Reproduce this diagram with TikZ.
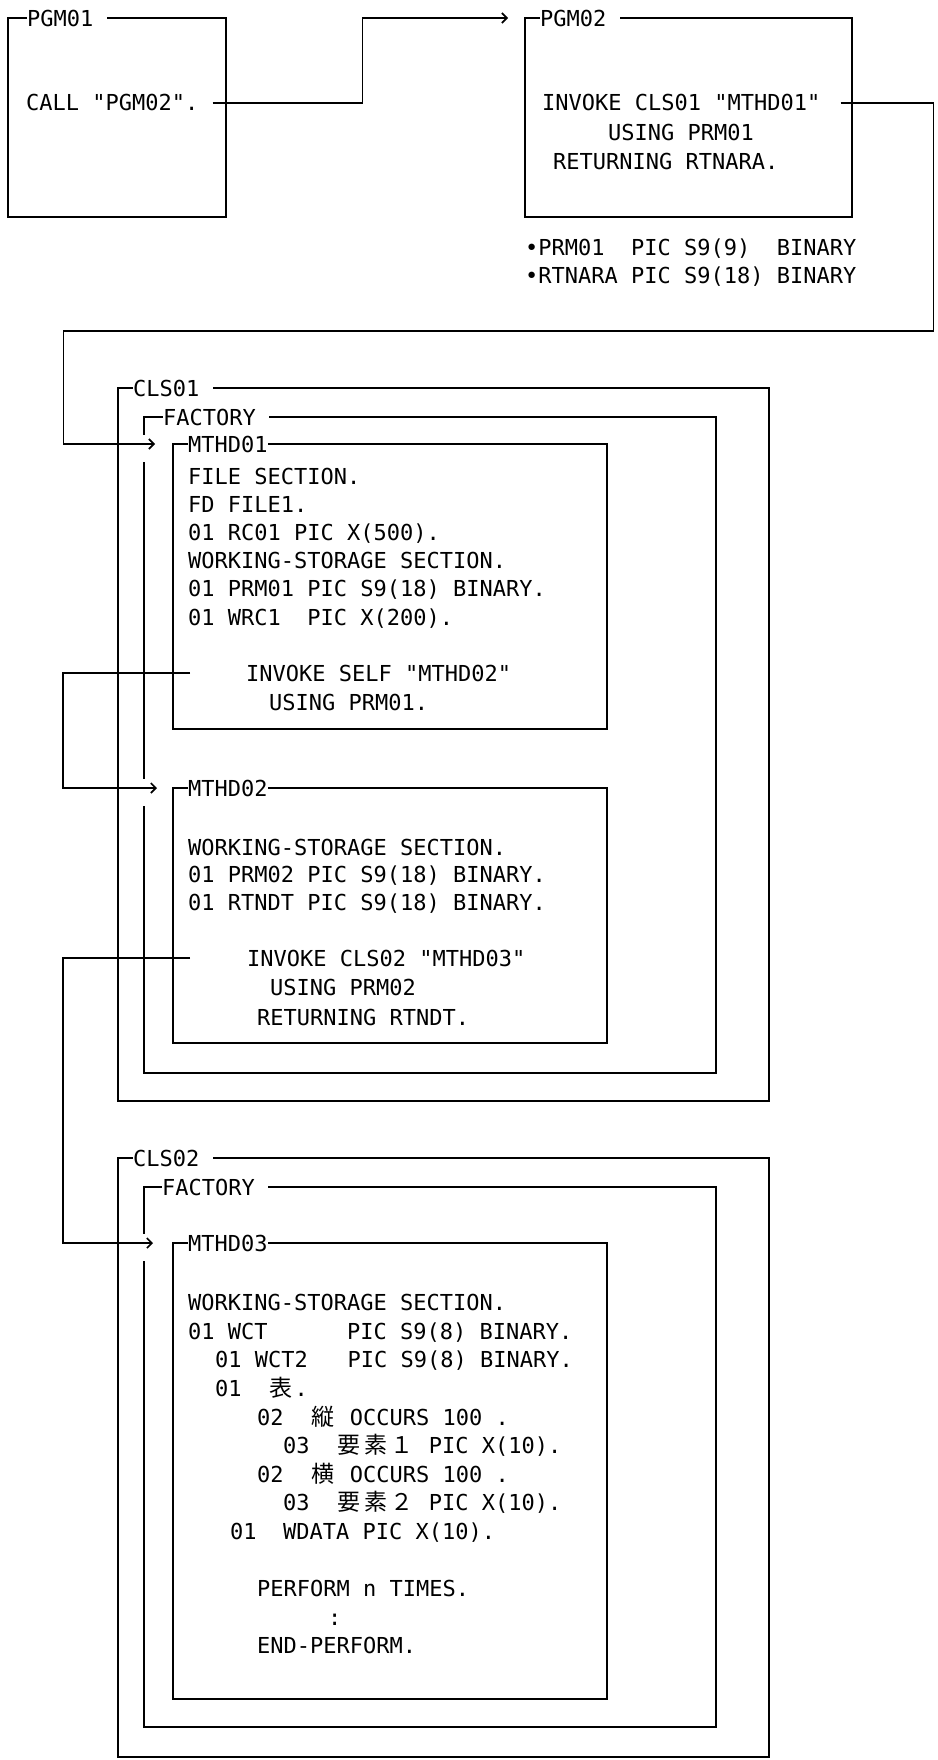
\documentclass[tikz,border=0pt]{standalone}
\usepackage{fontspec}
\newfontfamily\codefont{DejaVu Sans Mono}
\newfontfamily\jpfont{Noto Sans CJK JP}
\usetikzlibrary{arrows.meta,math}
% Kanji in a double-width cell
\newcommand\kj[1]{\makebox[26.5pt][c]{\jpfont\fontsize{23}{26}\selectfont #1}}

\begin{document}
\begin{tikzpicture}[x=1pt, y=-1pt,
	frame/.style={draw, line width=1.6pt, inner sep=0pt, outer sep=0pt, anchor=north west},
	tag/.style={fill=white, inner sep=0pt, anchor=west, font=\codefont\fontsize{22}{26}\selectfont},
	code/.style={anchor=base west, inner sep=0pt, font=\codefont\fontsize{22}{26}\selectfont},
	link/.style={line width=1.6pt, -{Straight Barb[length=5pt,width=10pt]}},
	gap/.style={fill=white}]
	% Constants
	\tikzmath{
		\lineA = 28.2; \lineB = 27.5; \lineC = 28.6;
	}
	\useasboundingbox (0,0) rectangle (937,1760);

	% Programs
	\node[frame, minimum width=218pt, minimum height=199pt] (pgm1) at (8,18) {};
	\node[frame, minimum width=327pt, minimum height=199pt] (pgm2) at (525,18) {};
	% Class 1
	\node[frame, minimum width=651pt, minimum height=713pt] (cls1) at (118,388) {};
	\node[frame, minimum width=572pt, minimum height=656pt] (fac1) at (144,417) {};
	\node[frame, minimum width=434pt, minimum height=285pt] (mthd1) at (173,444) {};
	\node[frame, minimum width=434pt, minimum height=255pt] (mthd2) at (173,788) {};
	% Class 2
	\node[frame, minimum width=651pt, minimum height=599pt] (cls2) at (118,1158) {};
	\node[frame, minimum width=572pt, minimum height=540pt] (fac2) at (144,1187) {};
	\node[frame, minimum width=434pt, minimum height=456pt] (mthd3) at (173,1243) {};

	% Breaks in the factory lines where the calls come in
	\fill[gap] ([shift={(-32,-9)}]mthd1.north west) rectangle ++(6,27);
	\fill[gap] ([shift={(-32,-9)}]mthd2.north west) rectangle ++(6,27);
	\fill[gap] ([shift={(-32,-9)}]mthd3.north west) rectangle ++(6,27);

	% Box titles
	\node[tag] (pgm1tag) at ([xshift=19pt]pgm1.north west) {PGM01\phantom{0}};
	\node[tag] (pgm2tag) at ([xshift=15pt]pgm2.north west) {PGM02\phantom{0}};
	\node[tag] (cls1tag) at ([xshift=15pt]cls1.north west) {CLS01\phantom{0}};
	\node[tag] (fac1tag) at ([xshift=19pt]fac1.north west) {FACTORY\phantom{0}};
	\node[tag] (mthd1tag) at ([xshift=15pt]mthd1.north west) {MTHD01};
	\node[tag] (mthd2tag) at ([xshift=15pt]mthd2.north west) {MTHD02};
	\node[tag] (cls2tag) at ([xshift=15pt]cls2.north west) {CLS02\phantom{0}};
	\node[tag] (fac2tag) at ([xshift=18pt]fac2.north west) {FACTORY\phantom{0}};
	\node[tag] (mthd3tag) at ([xshift=15pt]mthd3.north west) {MTHD03};

	% PGM01 and PGM02
	\node[code] (call) at (26,111) {CALL "PGM02".};
	\node[code] (inv1) at (542,111) {INVOKE CLS01 "MTHD01"};
	\node[code] (use1) at (608,141) {USING PRM01};
	\node[code] (ret1) at (553,170) {RETURNING RTNARA.};
	\node[code] (prm1) at (525,256) {•PRM01~~PIC S9(9)~~BINARY};
	\node[code] (rtn1) at (525,284) {•RTNARA PIC S9(18) BINARY};

	% MTHD01
	\foreach \txt [count=\k, evaluate=\k as \y using 455.8+\lineA*\k] in {
		{FILE SECTION.}, {FD FILE1.}, {01 RC01 PIC X(500).},
		{WORKING-STORAGE SECTION.}, {01 PRM01 PIC S9(18) BINARY.}, {01 WRC1~~PIC X(200).}} {
			\node[code] (m1l\k) at (188,\y) {\txt};
		}
	\node[code] (invself) at (246,681) {INVOKE SELF "MTHD02"};
	\node[code] (useself) at (269,710) {USING PRM01.};

	% MTHD02
	\foreach \txt [count=\k, evaluate=\k as \y using 827.5+\lineB*\k] in {
		{WORKING-STORAGE SECTION.}, {01 PRM02 PIC S9(18) BINARY.}, {01 RTNDT PIC S9(18) BINARY.}} {
			\node[code] (m2l\k) at (188,\y) {\txt};
		}
	\node[code] (inv2) at (247,966) {INVOKE CLS02 "MTHD03"};
	\node[code] (use2) at (270,995) {USING PRM02};
	\node[code] (ret2) at (257,1025) {RETURNING RTNDT.};

	% MTHD03
	\foreach \x/\txt [count=\k, evaluate=\k as \y using 1282+\lineC*\k] in {
		188/{WORKING-STORAGE SECTION.},
		188/{01 WCT~~~~~~PIC S9(8) BINARY.},
		215/{01 WCT2~~~PIC S9(8) BINARY.},
		215/{01~~\kj{表}.},
		257/{02~~\kj{縦}~OCCURS 100~.},
		283/{03~~\kj{要}\kj{素}\kj{１}~PIC X(10).},
		257/{02~~\kj{横}~OCCURS 100~.},
		283/{03~~\kj{要}\kj{素}\kj{２}~PIC X(10).},
		230/{01~~WDATA PIC X(10).}} {
			\node[code] (m3l\k) at (\x,\y) {\txt};
		}
	\node[code] (perf) at (257,1596) {PERFORM n TIMES.};
	\node[code] (dots) at (328,1625) {:};
	\node[code] (endp) at (257,1653) {END-PERFORM.};

	% Calls
	\draw[link] ([xshift=14pt]call.east) -- ++(150,0) |- ([xshift=-17pt]pgm2.north west);
	\draw[link] ([xshift=20pt]inv1.east) -| ++(93,228) -- ++(-870,0) |- ([xshift=-18pt]mthd1.north west);
	\draw[link] ([xshift=-56pt]invself.west) -- ++(-127,0) |- ([xshift=-16pt]mthd2.north west);
	\draw[link] ([xshift=-57pt]inv2.west) -- ++(-127,0) |- ([xshift=-20pt]mthd3.north west);
\end{tikzpicture}
\end{document}
